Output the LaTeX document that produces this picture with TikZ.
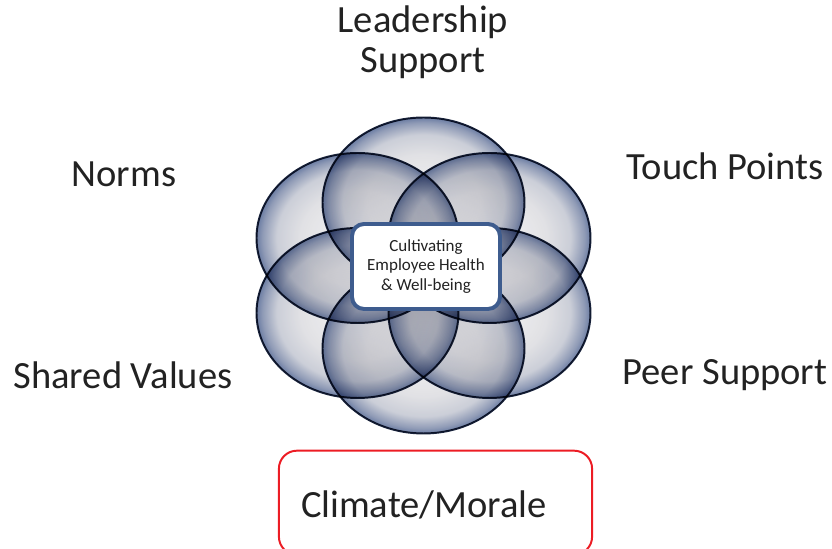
\documentclass[tikz,border=0pt]{standalone}
\usepackage{fontspec}
\setmainfont{Carlito}
\usetikzlibrary{shapes.geometric}
\definecolor{petalrim}{RGB}{70,92,140}
\definecolor{petaledge}{RGB}{116,130,164}
\definecolor{petalmid}{RGB}{190,194,206}
\definecolor{petalinner}{RGB}{218,218,222}
\definecolor{petalcore}{RGB}{240,240,242}
\definecolor{petalline}{RGB}{24,34,58}
\definecolor{boxrim}{RGB}{62,92,142}
\definecolor{textgray}{RGB}{34,34,34}
\definecolor{moralered}{RGB}{236,28,36}
\pgfdeclareradialshading{petalshade}{\pgfpoint{0bp}{0bp}}{%
  color(0bp)=(petalcore); color(14bp)=(petalinner);
  color(20bp)=(petalmid); color(23.5bp)=(petaledge);
  color(25bp)=(petalrim); color(50bp)=(petalrim)}

\begin{document}
\begin{tikzpicture}
[line width=1pt,
 petal/.style={ellipse, minimum width=5.05cm, minimum height=4.25cm, inner sep=0pt,
   shade, shading=petalshade, fill opacity=0.8, draw=petalline, line width=1.4pt},
 factor/.style={text=textgray, font=\fontsize{27.4}{28.5}\selectfont, align=center}]
\useasboundingbox (-10.5875,-6.8375) rectangle (10.2125,6.8875);
\clip (-10.5875,-6.8375) rectangle (10.2125,6.8875);
%%
\begin{scope}[blend mode=multiply]
\node (ptop) at (0,     1.825)  [petal] {}; %% Top
\node (pur)  at (1.65,  0.9375) [petal] {}; %% Upper right
\node (plr)  at (1.65, -0.9375) [petal] {}; %% Lower right
\node (pbot) at (0,    -1.825)  [petal] {}; %% Bottom
\node (pll)  at (-1.65,-0.9375) [petal] {}; %% Lower left
\node (pul)  at (-1.65, 0.9375) [petal] {}; %% Upper left
\end{scope}
%%
\node (core) at (0.0625, 0.225) [draw=boxrim, line width=2.8pt, fill=white,
  rounded corners=0.3cm, minimum width=3.7cm, minimum height=2.125cm,
  text=textgray, font=\fontsize{12.1}{13.9}\selectfont, align=center]
  {Cultivating\\Employee Health\\\& Well-being};
%%
\node (lead)   at (-0.0125, 5.84)    [factor] {Leadership\\Support};
\node (norms)  at (-7.4875, 2.5375)  [factor] {Norms};
\node (touch)  at (7.5375,  2.7375)  [factor] {Touch Points};
\node (shared) at (-7.5125,-2.4875)  [factor] {Shared Values};
\node (peer)   at (7.5375, -2.4875)  [factor] {Peer Support};
%%
\node (moralebox) at (0.3, -5.68) [draw=moralered, line width=1.4pt,
  rounded corners=0.45cm, minimum width=7.83cm, minimum height=2.6cm] {};
\node (morale) at (0.0125, -5.7375) [factor] {Climate/Morale};
\end{tikzpicture}
\end{document}
